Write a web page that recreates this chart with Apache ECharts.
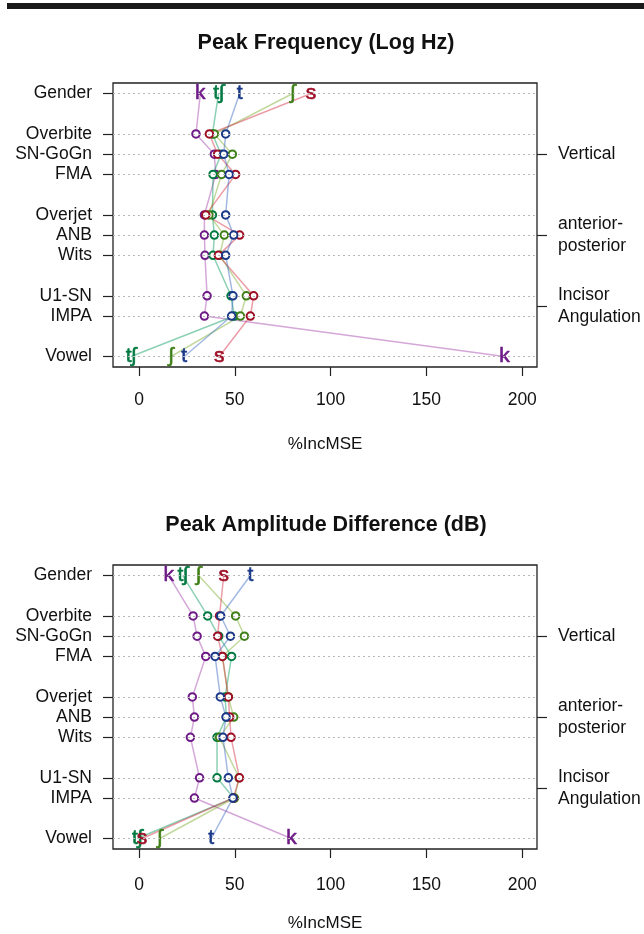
<!DOCTYPE html>
<html>
<head>
<meta charset="utf-8">
<script src="https://cdn.jsdelivr.net/npm/echarts@6/dist/echarts.min.js"></script>
<style>
  html, body { margin: 0; padding: 0; background: #fff; }
  #chart { width: 644px; height: 934px; }
</style>
</head>
<body>
<div id="chart"></div>
<script>
  // rows of the dot chart, top to bottom (blank slot between groups)
  const rowNames = ['Gender', 'Overbite', 'SN-GoGn', 'FMA', 'Overjet', 'ANB', 'Wits', 'U1-SN', 'IMPA', 'Vowel'];
  const rowPos = [1, 3, 4, 5, 7, 8, 9, 11, 12, 14];
  const groupNames = ['Vertical', 'anterior-\nposterior', 'Incisor\nAngulation'];
  const groupPos = [4, 8, 11.5];
  const xTicks = [0, 50, 100, 150, 200];

  const phonemes = ['k', 'tʃ', 'ʃ', 's', 't'];

  // Peak Frequency (Log Hz), %IncMSE per row
  const freqK   = [32.0, 29.7, 39.3, 40.0, 34.1, 34.1, 34.4, 35.5, 34.1, 190.7];
  const freqTsh = [41.5, 38.3, 42.8, 38.6, 38.3, 39.3, 38.6, 48.0, 49.7, -4.2];
  const freqSh  = [80.2, 39.3, 48.7, 43.1, 36.5, 44.5, 42.1, 56.0, 52.9, 16.7];
  const freqS   = [89.8, 36.7, 41.0, 50.4, 34.8, 52.5, 41.4, 59.8, 58.1, 41.9];
  const freqT   = [52.5, 45.2, 44.2, 47.0, 45.2, 49.4, 45.2, 49.0, 48.3, 23.6];

  // Peak Amplitude Difference (dB)
  const ampK   = [15.5, 28.2, 30.3, 34.8, 27.8, 28.9, 26.8, 31.6, 28.9, 79.5];
  const ampTsh = [22.8, 35.8, 41.6, 48.3, 44.9, 45.6, 40.7, 40.7, 49.4, -1.0];
  const ampSh  = [31.1, 50.4, 55.0, 43.5, 46.6, 49.4, 42.0, 52.2, 49.8, 10.8];
  const ampS   = [44.2, 42.0, 41.0, 43.5, 46.6, 47.3, 48.0, 52.4, 49.2, 1.6];
  const ampT   = [58.1, 42.6, 47.7, 39.7, 42.4, 45.4, 43.8, 46.6, 49.0, 37.7];

  const freqData = [freqK, freqTsh, freqSh, freqS, freqT];
  const ampData = [ampK, ampTsh, ampSh, ampS, ampT];

  const colors = ['#6e1a86', '#007a40', '#3f7f18', '#9e0f25', '#1a3888'];
  const lineColors = ['rgba(160,60,170,0.45)', 'rgba(0,150,90,0.45)', 'rgba(120,170,40,0.45)',
                      'rgba(210,40,60,0.45)', 'rgba(50,100,190,0.45)'];
  const font = "'Liberation Sans', Arial, sans-serif";

  const grids = [
    {left: 113, top: 83, width: 424, height: 284},
    {left: 113, top: 565, width: 424, height: 284}
  ];
  const labelMargins = [24, 27];
  const nameGaps = [69, 66];

  const xAxes = [];
  const yAxes = [];
  const series = [];

  [freqData, ampData].forEach(function (panel, g) {
    xAxes.push({
      type: 'value', gridIndex: g, min: -13.6, max: 207.7,
      name: '%IncMSE', nameLocation: 'middle', nameGap: nameGaps[g],
      nameTextStyle: {fontFamily: font, fontSize: 17, color: '#111'},
      axisLine: {show: false, onZero: false},
      splitLine: {show: false},
      axisTick: {show: true, length: 9, customValues: xTicks, lineStyle: {color: '#222', width: 1.2}},
      axisLabel: {customValues: xTicks, margin: labelMargins[g], fontFamily: font, fontSize: 17.5, color: '#111'}
    });
    yAxes.push({
      type: 'value', gridIndex: g, min: 0.48, max: 14.52, inverse: true,
      axisLine: {show: false, onZero: false},
      splitLine: {show: false},
      axisTick: {show: true, length: 10, customValues: rowPos, lineStyle: {color: '#222', width: 1.2}},
      axisLabel: {
        customValues: rowPos, margin: 21, fontFamily: font, fontSize: 17.5, color: '#111',
        formatter: function (v) { return rowNames[rowPos.indexOf(v)] || ''; }
      }
    });
    yAxes.push({
      type: 'value', gridIndex: g, position: 'right', min: 0.48, max: 14.52, inverse: true,
      axisLine: {show: false, onZero: false},
      splitLine: {show: false},
      axisTick: {show: true, length: 10, customValues: groupPos, lineStyle: {color: '#222', width: 1.2}},
      axisLabel: {
        customValues: groupPos, margin: 21, fontFamily: font, fontSize: 17.5, color: '#111',
        lineHeight: 22, align: 'left',
        formatter: function (v) { return groupNames[groupPos.indexOf(v)] || ''; }
      }
    });

    // dotted guide lines at each row
    series.push({
      type: 'line', xAxisIndex: g, yAxisIndex: g * 2, data: [], z: 1, silent: true,
      markLine: {
        silent: true, symbol: ['none', 'none'], label: {show: false},
        lineStyle: {color: '#b8b8b8', type: [2, 3], width: 1},
        data: rowPos.map(function (p) { return {yAxis: p}; })
      }
    });

    panel.forEach(function (vals, i) {
      series.push({
        type: 'line', xAxisIndex: g, yAxisIndex: g * 2, z: 2,
        symbol: 'emptyCircle', symbolSize: 7.5,
        lineStyle: {color: lineColors[i], width: 1.5},
        itemStyle: {color: colors[i], borderWidth: 1.4},
        emphasis: {disabled: true},
        data: vals.map(function (v, r) {
          const item = {value: [v, rowPos[r]]};
          if (r === 0 || r === vals.length - 1) item.symbol = 'none';
          return item;
        })
      });
      series.push({
        type: 'scatter', xAxisIndex: g, yAxisIndex: g * 2, z: 3,
        symbolSize: 1, itemStyle: {color: 'rgba(0,0,0,0)'},
        emphasis: {disabled: true},
        label: {
          show: true, position: 'inside', formatter: phonemes[i], opacity: 1,
          fontFamily: font, fontSize: 21, color: colors[i],
          textBorderColor: colors[i], textBorderWidth: 0.6
        },
        data: [[vals[0], rowPos[0]], [vals[vals.length - 1], rowPos[rowPos.length - 1]]]
      });
    });
  });

  const chart = echarts.init(document.getElementById('chart'), null, {renderer: 'canvas'});
  chart.setOption({
    animation: false,
    backgroundColor: '#fff',
    title: [
      {text: 'Peak Frequency (Log Hz)', left: 321, top: 27, textAlign: 'center',
       textStyle: {fontFamily: font, fontSize: 21.5, fontWeight: 'bold', color: '#111'}},
      {text: 'Peak Amplitude Difference (dB)', left: 321, top: 509, textAlign: 'center',
       textStyle: {fontFamily: font, fontSize: 21.5, fontWeight: 'bold', color: '#111'}}
    ],
    graphic: [
      {type: 'rect', shape: {x: 7, y: 3, width: 637, height: 6}, style: {fill: '#1a1a1a'}}
    ],
    grid: grids.map(function (gr) {
      return Object.assign({show: true, borderColor: '#222', borderWidth: 1.3,
        backgroundColor: 'transparent', outerBoundsMode: 'none', containLabel: false}, gr);
    }),
    xAxis: xAxes,
    yAxis: yAxes,
    series: series
  });
  window.addEventListener('resize', function () {
    chart.resize();
  });
</script>
</body>
</html>
